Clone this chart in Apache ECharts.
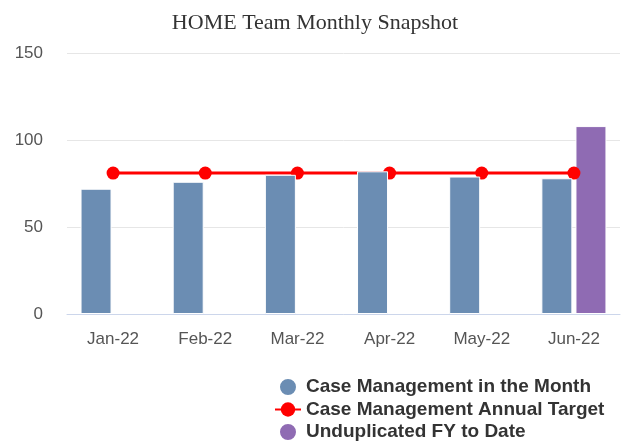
<!DOCTYPE html>
<html>
<head>
<meta charset="utf-8">
<script src="https://cdn.jsdelivr.net/npm/echarts@6/dist/echarts.min.js"></script>
<style>
  html, body { margin: 0; padding: 0; background: #fff; }
  #chart { width: 630px; height: 445px; }
</style>
</head>
<body>
<div id="chart"></div>
<script>
// Monthly case management counts against the annual target
const months = ['Jan-22', 'Feb-22', 'Mar-22', 'Apr-22', 'May-22', 'Jun-22'];
const caseMgmtMonth = [72, 76, 80, 82, 79, 78];
const annualTarget = [81, 81, 81, 81, 81, 81];
const unduplicatedFY = [null, null, null, null, null, 108];
const yTicks = { min: 0, max: 150, interval: 50 };

const chart = echarts.init(document.getElementById('chart'), null, { renderer: 'canvas' });

chart.setOption({
  animation: false,
  backgroundColor: '#ffffff',
  title: {
    text: 'HOME Team Monthly Snapshot',
    left: 'center',
    top: 7,
    textStyle: {
      fontFamily: '"Liberation Serif", "Times New Roman", serif',
      fontWeight: 'normal',
      fontSize: 22,
      color: '#333333'
    }
  },
  legend: {
    orient: 'vertical',
    left: 274,
    top: 377,
    height: 80,
    padding: 0,
    itemWidth: 26,
    itemHeight: 18,
    itemGap: 3,
    data: [
      { name: 'Case Management in the Month', icon: 'circle' },
      { name: 'Case Management Annual Target' },
      { name: 'Unduplicated FY to Date', icon: 'circle' }
    ],
    textStyle: {
      fontFamily: '"Liberation Sans", Arial, sans-serif',
      fontWeight: 'bold',
      fontSize: 19,
      color: '#333333'
    }
  },
  grid: { left: 67, right: 10, top: 53, bottom: 131, containLabel: false },
  xAxis: {
    type: 'category',
    data: months,
    axisLine: { lineStyle: { color: '#ccd6eb', width: 1 } },
    axisTick: { show: false },
    axisLabel: {
      margin: 17,
      fontFamily: '"Liberation Sans", Arial, sans-serif',
      fontSize: 17,
      color: '#555555'
    }
  },
  yAxis: {
    type: 'value',
    min: yTicks.min,
    max: yTicks.max,
    interval: yTicks.interval,
    axisLine: { show: false },
    axisTick: { show: false },
    splitLine: { lineStyle: { color: '#e6e6e6', width: 1 } },
    axisLabel: {
      margin: 24,
      fontFamily: '"Liberation Sans", Arial, sans-serif',
      fontSize: 17,
      color: '#555555'
    }
  },
  series: [
    {
      name: 'Case Management in the Month',
      type: 'bar',
      data: caseMgmtMonth,
      barWidth: 31,
      barGap: '10%',
      z: 4,
      itemStyle: { color: '#6b8db3', borderColor: '#ffffff', borderWidth: 1 }
    },
    {
      name: 'Unduplicated FY to Date',
      type: 'bar',
      data: unduplicatedFY,
      barWidth: 31,
      barGap: '10%',
      z: 1,
      itemStyle: { color: '#8f6bb3', borderColor: '#ffffff', borderWidth: 1 }
    },
    {
      name: 'Case Management Annual Target',
      type: 'line',
      data: annualTarget,
      z: 2,
      symbol: 'circle',
      symbolSize: 13,
      lineStyle: { color: '#ff0000', width: 3 },
      itemStyle: { color: '#ff0000' }
    }
  ]
});
</script>
</body>
</html>
